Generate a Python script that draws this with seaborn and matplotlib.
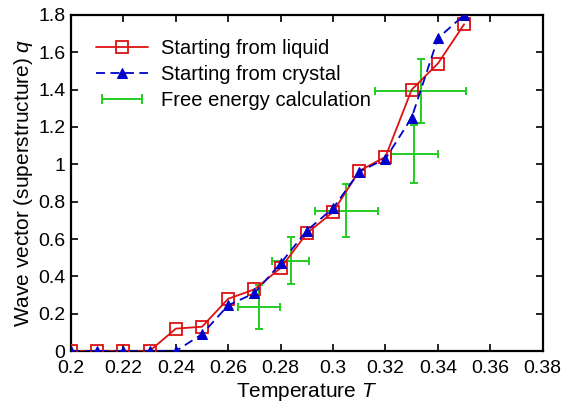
import matplotlib
matplotlib.use("Agg")
import matplotlib.pyplot as plt
from matplotlib.ticker import FuncFormatter
from matplotlib.lines import Line2D
from matplotlib.legend_handler import HandlerLine2D
import pandas as pd
import seaborn as sns

# Simulation results: superstructure wave vector vs temperature
temperature = [0.20, 0.21, 0.22, 0.23, 0.24, 0.25, 0.26, 0.27, 0.28, 0.29,
               0.30, 0.31, 0.32, 0.33, 0.34, 0.35]
q_liquid = [0.0, 0.0, 0.0, 0.0, 0.12, 0.13, 0.28, 0.33, 0.445, 0.63,
            0.745, 0.965, 1.04, 1.40, 1.54, 1.75]
q_crystal = [0.0, 0.0, 0.0, 0.0, 0.0, 0.09, 0.245, 0.31, 0.47, 0.645,
             0.765, 0.96, 1.03, 1.25, 1.675, 1.80]

# Free energy estimates with uncertainties
fe_T = [0.2719, 0.2838, 0.3050, 0.3310, 0.3335]
fe_q = [0.236, 0.484, 0.752, 1.055, 1.393]
fe_T_err = [0.0080, 0.0070, 0.0120, 0.0090, 0.0174]
fe_q_err = [0.118, 0.127, 0.141, 0.155, 0.173]

x_ticks = [0.20, 0.22, 0.24, 0.26, 0.28, 0.30, 0.32, 0.34, 0.36, 0.38]
y_ticks = [0.0, 0.2, 0.4, 0.6, 0.8, 1.0, 1.2, 1.4, 1.6, 1.8]

sns.set_style("ticks", {"axes.edgecolor": "black", "text.color": "black",
                        "xtick.color": "black", "ytick.color": "black",
                        "axes.labelcolor": "black"})
plt.rcParams["font.family"] = ["Liberation Sans", "DejaVu Sans"]
plt.rcParams["mathtext.fontset"] = "custom"
plt.rcParams["mathtext.it"] = "Liberation Sans:italic"
plt.rcParams["mathtext.rm"] = "Liberation Sans"

RED = "#dd1111"
BLUE = "#0000cc"
GREEN = "#22cc22"

fig = plt.figure(figsize=(5.74, 4.05), dpi=100)
ax = fig.add_axes([0.1237, 0.1333, 0.9455 - 0.1237, 0.963 - 0.1333])

df = pd.DataFrame({"T": temperature, "liquid": q_liquid, "crystal": q_crystal})

sns.lineplot(data=df, x="T", y="liquid", ax=ax, color=RED, lw=1.3,
             marker="s", markersize=9, markerfacecolor="none",
             markeredgecolor=RED, markeredgewidth=1.3,
             label="Starting from liquid", zorder=3)
sns.lineplot(data=df, x="T", y="crystal", ax=ax, color=BLUE, lw=1.3,
             linestyle=(0, (5, 3)), marker="^", markersize=7,
             markerfacecolor=BLUE, markeredgecolor=BLUE,
             label="Starting from crystal", zorder=4)
ax.errorbar(fe_T, fe_q, xerr=fe_T_err, yerr=fe_q_err, fmt="none",
            ecolor=GREEN, elinewidth=1.4, capsize=3, capthick=1.4, zorder=2)

ax.set_xlim(0.2, 0.38)
ax.set_ylim(0, 1.8)
ax.set_xticks(x_ticks)
ax.set_yticks(y_ticks)
ax.xaxis.set_major_formatter(FuncFormatter(lambda v, p: f"{v:g}"))
ax.yaxis.set_major_formatter(FuncFormatter(lambda v, p: f"{v:g}"))
ax.tick_params(direction="in", top=True, right=True, length=5, width=1.2,
               labelsize=14, colors="black")
ax.tick_params(axis="x", pad=6.5)
ax.tick_params(axis="y", pad=4)
for s in ax.spines.values():
    s.set_linewidth(1.6)
    s.set_color("black")
    s.set_visible(True)

ax.set_xlabel("Temperature $T$", fontsize=15, labelpad=3)
ax.set_ylabel("Wave vector (superstructure) $q$", fontsize=15, labelpad=2)

# Legend: horizontal bar with end caps for the free-energy entry
fe_handle = Line2D([], [], color=GREEN, lw=1.4, marker="|", markersize=7,
                   markeredgewidth=1.4)
handles, labels = ax.get_legend_handles_labels()
handles.append(fe_handle)
labels.append("Free energy calculation")
ax.legend(handles, labels, loc="upper left", frameon=False, fontsize=14.5,
          handlelength=2.6, handletextpad=0.65, labelspacing=0.34,
          bbox_to_anchor=(0.035, 0.952), borderaxespad=0.0,
          handler_map={fe_handle: HandlerLine2D(numpoints=2)})

fig.savefig("out.png", dpi=100)
